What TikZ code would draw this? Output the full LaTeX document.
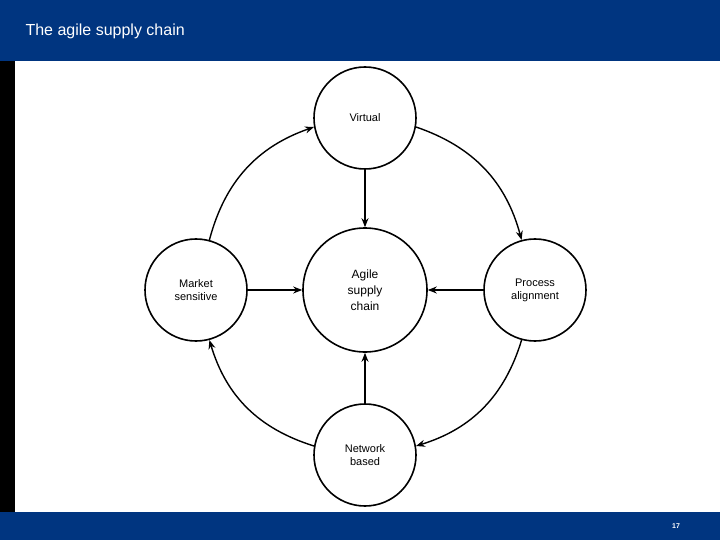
\documentclass[tikz,border=0pt]{standalone}
\usepackage{fontspec}
\setmainfont{Liberation Sans}
\usetikzlibrary{arrows.meta}
\definecolor{bar}{HTML}{003580}
\begin{document}
\begin{tikzpicture}[x=1pt,y=-1pt,
  circ/.style={circle,draw,line width=1.6pt,minimum size=102pt,inner sep=0pt,align=center,font=\fontsize{11}{13}\selectfont},
  arr/.style={line width=1.4pt,-{Stealth[length=9pt,width=7pt]}}]
\useasboundingbox (0,0) rectangle (720,540);
\fill[bar] (0,0) rectangle (720,61);
\fill[black] (0,61) rectangle (15,512);
\fill[bar] (0,512) rectangle (720,540);
\node[anchor=west,text=white,font=\fontsize{16}{18}\selectfont] (title) at (22,31) {The agile supply chain};
\node[text=white,font=\fontsize{7}{8}\selectfont\bfseries] (pg) at (676,526) {17};
\node[circ] (v) at (365,118) {Virtual};
\node[circ] (m) at (196,290) {Market\\sensitive};
\node[circ,minimum size=124pt,font=\fontsize{12}{16}\selectfont] (a) at (365,290) {Agile\\supply\\chain};
\node[circ] (p) at (535,290) {Process\\alignment};
\node[circ] (n) at (365,455) {Network\\based};
\draw[arr] (v) -- (a);
\draw[arr] (m) -- (a);
\draw[arr] (p) -- (a);
\draw[arr] (n) -- (a);
\draw[arr] (m.75) to[bend left=28] (v.190);
\draw[arr] (v.-10) to[bend left=28] (p.105);
\draw[arr] (p.-105) to[bend left=28] (n.10);
\draw[arr] (n.170) to[bend left=28] (m.-75);
\end{tikzpicture}
\end{document}
